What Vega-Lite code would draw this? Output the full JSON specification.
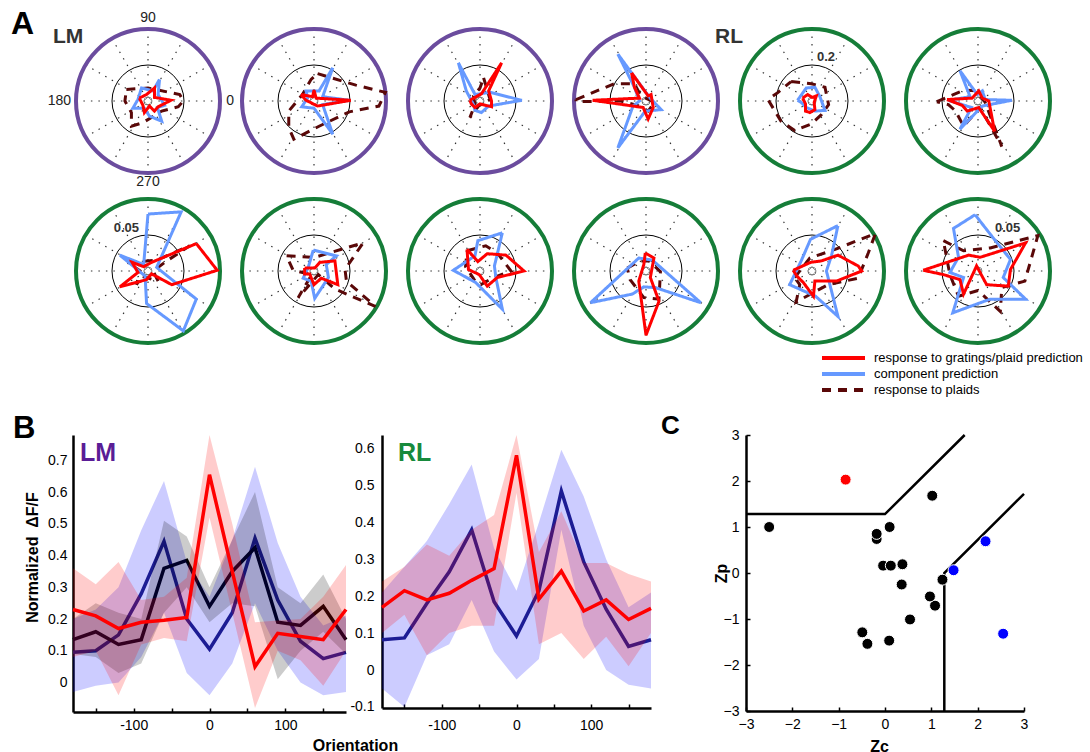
{
  "$schema": "https://vega.github.io/schema/vega-lite/v6.json",
  "padding": {"left": 10, "top": 7, "right": 5, "bottom": 0},
  "background": "white",
  "datasets": {
    "polar": [
      {"k":"r","c":1,"a":"LM"},{"k":"r","c":2,"a":"LM"},{"k":"r","c":3,"a":"LM"},{"k":"r","c":4,"a":"LM"},{"k":"r","c":5,"a":"RL"},{"k":"r","c":6,"a":"RL"},
      {"k":"r","c":7,"a":"RL"},{"k":"r","c":8,"a":"RL"},{"k":"r","c":9,"a":"RL"},{"k":"r","c":10,"a":"RL"},{"k":"r","c":11,"a":"RL"},{"k":"r","c":12,"a":"RL"},
      {"k":"s","c":1,"x":-1,"y":0,"u":1,"v":0},{"k":"s","c":1,"x":-0.866,"y":-0.5,"u":0.866,"v":0.5},{"k":"s","c":1,"x":-0.5,"y":-0.866,"u":0.5,"v":0.866},{"k":"s","c":1,"x":0,"y":-1,"u":0,"v":1},{"k":"s","c":1,"x":0.5,"y":-0.866,"u":-0.5,"v":0.866},{"k":"s","c":1,"x":0.866,"y":-0.5,"u":-0.866,"v":0.5},
      {"k":"s","c":2,"x":-1,"y":0,"u":1,"v":0},{"k":"s","c":2,"x":-0.866,"y":-0.5,"u":0.866,"v":0.5},{"k":"s","c":2,"x":-0.5,"y":-0.866,"u":0.5,"v":0.866},{"k":"s","c":2,"x":0,"y":-1,"u":0,"v":1},{"k":"s","c":2,"x":0.5,"y":-0.866,"u":-0.5,"v":0.866},{"k":"s","c":2,"x":0.866,"y":-0.5,"u":-0.866,"v":0.5},
      {"k":"s","c":3,"x":-1,"y":0,"u":1,"v":0},{"k":"s","c":3,"x":-0.866,"y":-0.5,"u":0.866,"v":0.5},{"k":"s","c":3,"x":-0.5,"y":-0.866,"u":0.5,"v":0.866},{"k":"s","c":3,"x":0,"y":-1,"u":0,"v":1},{"k":"s","c":3,"x":0.5,"y":-0.866,"u":-0.5,"v":0.866},{"k":"s","c":3,"x":0.866,"y":-0.5,"u":-0.866,"v":0.5},
      {"k":"s","c":4,"x":-1,"y":0,"u":1,"v":0},{"k":"s","c":4,"x":-0.866,"y":-0.5,"u":0.866,"v":0.5},{"k":"s","c":4,"x":-0.5,"y":-0.866,"u":0.5,"v":0.866},{"k":"s","c":4,"x":0,"y":-1,"u":0,"v":1},{"k":"s","c":4,"x":0.5,"y":-0.866,"u":-0.5,"v":0.866},{"k":"s","c":4,"x":0.866,"y":-0.5,"u":-0.866,"v":0.5},
      {"k":"s","c":5,"x":-1,"y":0,"u":1,"v":0},{"k":"s","c":5,"x":-0.866,"y":-0.5,"u":0.866,"v":0.5},{"k":"s","c":5,"x":-0.5,"y":-0.866,"u":0.5,"v":0.866},{"k":"s","c":5,"x":0,"y":-1,"u":0,"v":1},{"k":"s","c":5,"x":0.5,"y":-0.866,"u":-0.5,"v":0.866},{"k":"s","c":5,"x":0.866,"y":-0.5,"u":-0.866,"v":0.5},
      {"k":"s","c":6,"x":-1,"y":0,"u":1,"v":0},{"k":"s","c":6,"x":-0.866,"y":-0.5,"u":0.866,"v":0.5},{"k":"s","c":6,"x":-0.5,"y":-0.866,"u":0.5,"v":0.866},{"k":"s","c":6,"x":0,"y":-1,"u":0,"v":1},{"k":"s","c":6,"x":0.5,"y":-0.866,"u":-0.5,"v":0.866},{"k":"s","c":6,"x":0.866,"y":-0.5,"u":-0.866,"v":0.5},
      {"k":"s","c":7,"x":-1,"y":0,"u":1,"v":0},{"k":"s","c":7,"x":-0.866,"y":-0.5,"u":0.866,"v":0.5},{"k":"s","c":7,"x":-0.5,"y":-0.866,"u":0.5,"v":0.866},{"k":"s","c":7,"x":0,"y":-1,"u":0,"v":1},{"k":"s","c":7,"x":0.5,"y":-0.866,"u":-0.5,"v":0.866},{"k":"s","c":7,"x":0.866,"y":-0.5,"u":-0.866,"v":0.5},
      {"k":"s","c":8,"x":-1,"y":0,"u":1,"v":0},{"k":"s","c":8,"x":-0.866,"y":-0.5,"u":0.866,"v":0.5},{"k":"s","c":8,"x":-0.5,"y":-0.866,"u":0.5,"v":0.866},{"k":"s","c":8,"x":0,"y":-1,"u":0,"v":1},{"k":"s","c":8,"x":0.5,"y":-0.866,"u":-0.5,"v":0.866},{"k":"s","c":8,"x":0.866,"y":-0.5,"u":-0.866,"v":0.5},
      {"k":"s","c":9,"x":-1,"y":0,"u":1,"v":0},{"k":"s","c":9,"x":-0.866,"y":-0.5,"u":0.866,"v":0.5},{"k":"s","c":9,"x":-0.5,"y":-0.866,"u":0.5,"v":0.866},{"k":"s","c":9,"x":0,"y":-1,"u":0,"v":1},{"k":"s","c":9,"x":0.5,"y":-0.866,"u":-0.5,"v":0.866},{"k":"s","c":9,"x":0.866,"y":-0.5,"u":-0.866,"v":0.5},
      {"k":"s","c":10,"x":-1,"y":0,"u":1,"v":0},{"k":"s","c":10,"x":-0.866,"y":-0.5,"u":0.866,"v":0.5},{"k":"s","c":10,"x":-0.5,"y":-0.866,"u":0.5,"v":0.866},{"k":"s","c":10,"x":0,"y":-1,"u":0,"v":1},{"k":"s","c":10,"x":0.5,"y":-0.866,"u":-0.5,"v":0.866},{"k":"s","c":10,"x":0.866,"y":-0.5,"u":-0.866,"v":0.5},
      {"k":"s","c":11,"x":-1,"y":0,"u":1,"v":0},{"k":"s","c":11,"x":-0.866,"y":-0.5,"u":0.866,"v":0.5},{"k":"s","c":11,"x":-0.5,"y":-0.866,"u":0.5,"v":0.866},{"k":"s","c":11,"x":0,"y":-1,"u":0,"v":1},{"k":"s","c":11,"x":0.5,"y":-0.866,"u":-0.5,"v":0.866},{"k":"s","c":11,"x":0.866,"y":-0.5,"u":-0.866,"v":0.5},
      {"k":"s","c":12,"x":-1,"y":0,"u":1,"v":0},{"k":"s","c":12,"x":-0.866,"y":-0.5,"u":0.866,"v":0.5},{"k":"s","c":12,"x":-0.5,"y":-0.866,"u":0.5,"v":0.866},{"k":"s","c":12,"x":0,"y":-1,"u":0,"v":1},{"k":"s","c":12,"x":0.5,"y":-0.866,"u":-0.5,"v":0.866},{"k":"s","c":12,"x":0.866,"y":-0.5,"u":-0.866,"v":0.5},

      {"k":"p","c":1,"s":"p","i":0,"x":-0.3,"y":0.16},{"k":"p","c":1,"s":"p","i":1,"x":0,"y":0.18},{"k":"p","c":1,"s":"p","i":2,"x":0.44,"y":0.09},{"k":"p","c":1,"s":"p","i":3,"x":0.49,"y":0},{"k":"p","c":1,"s":"p","i":4,"x":0.42,"y":-0.08},{"k":"p","c":1,"s":"p","i":5,"x":0.19,"y":-0.14},{"k":"p","c":1,"s":"p","i":6,"x":-0.07,"y":-0.3},{"k":"p","c":1,"s":"p","i":7,"x":-0.23,"y":-0.35},{"k":"p","c":1,"s":"p","i":8,"x":-0.23,"y":-0.16},{"k":"p","c":1,"s":"p","i":9,"x":-0.32,"y":0},{"k":"p","c":1,"s":"p","i":10,"x":-0.3,"y":0.16},
      {"k":"p","c":1,"s":"c","i":0,"x":0.16,"y":0.3},{"k":"p","c":1,"s":"c","i":1,"x":0.07,"y":0.14},{"k":"p","c":1,"s":"c","i":2,"x":-0.09,"y":0.18},{"k":"p","c":1,"s":"c","i":3,"x":-0.14,"y":0.02},{"k":"p","c":1,"s":"c","i":4,"x":-0.21,"y":-0.1},{"k":"p","c":1,"s":"c","i":5,"x":-0.05,"y":-0.1},{"k":"p","c":1,"s":"c","i":6,"x":0.02,"y":-0.21},{"k":"p","c":1,"s":"c","i":7,"x":0.19,"y":-0.28},{"k":"p","c":1,"s":"c","i":8,"x":0.13,"y":-0.09},{"k":"p","c":1,"s":"c","i":9,"x":0.23,"y":-0.06},{"k":"p","c":1,"s":"c","i":10,"x":0.14,"y":0.09},{"k":"p","c":1,"s":"c","i":11,"x":0.16,"y":0.3},
      {"k":"p","c":1,"s":"g","i":0,"x":-0.12,"y":0.04},{"k":"p","c":1,"s":"g","i":1,"x":-0.02,"y":0.09},{"k":"p","c":1,"s":"g","i":2,"x":0.09,"y":0.18},{"k":"p","c":1,"s":"g","i":3,"x":0.09,"y":0.05},{"k":"p","c":1,"s":"g","i":4,"x":0.32,"y":0.01},{"k":"p","c":1,"s":"g","i":5,"x":0.14,"y":-0.08},{"k":"p","c":1,"s":"g","i":6,"x":0.09,"y":-0.14},{"k":"p","c":1,"s":"g","i":7,"x":0.02,"y":-0.07},{"k":"p","c":1,"s":"g","i":8,"x":-0.05,"y":-0.16},{"k":"p","c":1,"s":"g","i":9,"x":-0.07,"y":-0.06},{"k":"p","c":1,"s":"g","i":10,"x":-0.12,"y":0.04},

      {"k":"p","c":2,"s":"p","i":0,"x":0.05,"y":0.38},{"k":"p","c":2,"s":"p","i":1,"x":0.58,"y":0.22},{"k":"p","c":2,"s":"p","i":2,"x":0.99,"y":0.12},{"k":"p","c":2,"s":"p","i":3,"x":0.9,"y":-0.07},{"k":"p","c":2,"s":"p","i":4,"x":0.49,"y":-0.15},{"k":"p","c":2,"s":"p","i":5,"x":0.07,"y":-0.35},{"k":"p","c":2,"s":"p","i":6,"x":-0.28,"y":-0.53},{"k":"p","c":2,"s":"p","i":7,"x":-0.35,"y":-0.37},{"k":"p","c":2,"s":"p","i":8,"x":-0.35,"y":-0.14},{"k":"p","c":2,"s":"p","i":9,"x":-0.16,"y":0.09},{"k":"p","c":2,"s":"p","i":10,"x":-0.04,"y":0.3},{"k":"p","c":2,"s":"p","i":11,"x":0.05,"y":0.38},
      {"k":"p","c":2,"s":"c","i":0,"x":0.26,"y":0.46},{"k":"p","c":2,"s":"c","i":1,"x":0.07,"y":0.14},{"k":"p","c":2,"s":"c","i":2,"x":-0.11,"y":0.14},{"k":"p","c":2,"s":"c","i":3,"x":-0.09,"y":0.04},{"k":"p","c":2,"s":"c","i":4,"x":-0.17,"y":-0.08},{"k":"p","c":2,"s":"c","i":5,"x":0,"y":-0.1},{"k":"p","c":2,"s":"c","i":6,"x":0.26,"y":-0.46},{"k":"p","c":2,"s":"c","i":7,"x":0.12,"y":-0.05},{"k":"p","c":2,"s":"c","i":8,"x":0.49,"y":0.01},{"k":"p","c":2,"s":"c","i":9,"x":0.12,"y":0.06},{"k":"p","c":2,"s":"c","i":10,"x":0.26,"y":0.46},
      {"k":"p","c":2,"s":"g","i":0,"x":-0.18,"y":0.09},{"k":"p","c":2,"s":"g","i":1,"x":-0.02,"y":0.06},{"k":"p","c":2,"s":"g","i":2,"x":0,"y":0.15},{"k":"p","c":2,"s":"g","i":3,"x":0.03,"y":0.04},{"k":"p","c":2,"s":"g","i":4,"x":0.51,"y":0.01},{"k":"p","c":2,"s":"g","i":5,"x":0.05,"y":-0.07},{"k":"p","c":2,"s":"g","i":6,"x":-0.11,"y":0.01},{"k":"p","c":2,"s":"g","i":7,"x":-0.18,"y":0.09},

      {"k":"p","c":3,"s":"p","i":0,"x":0.05,"y":0.32},{"k":"p","c":3,"s":"p","i":1,"x":0.14,"y":0.02},{"k":"p","c":3,"s":"p","i":2,"x":-0.02,"y":-0.07},{"k":"p","c":3,"s":"p","i":3,"x":-0.14,"y":-0.23},{"k":"p","c":3,"s":"p","i":4,"x":-0.07,"y":-0.05},{"k":"p","c":3,"s":"p","i":5,"x":-0.09,"y":0.07},{"k":"p","c":3,"s":"p","i":6,"x":0,"y":0.18},{"k":"p","c":3,"s":"p","i":7,"x":0.05,"y":0.32},
      {"k":"p","c":3,"s":"c","i":0,"x":-0.3,"y":0.53},{"k":"p","c":3,"s":"c","i":1,"x":-0.07,"y":0.09},{"k":"p","c":3,"s":"c","i":2,"x":0.14,"y":0.12},{"k":"p","c":3,"s":"c","i":3,"x":0.58,"y":0.01},{"k":"p","c":3,"s":"c","i":4,"x":0.12,"y":-0.07},{"k":"p","c":3,"s":"c","i":5,"x":0.02,"y":-0.16},{"k":"p","c":3,"s":"c","i":6,"x":-0.07,"y":-0.13},{"k":"p","c":3,"s":"c","i":7,"x":-0.09,"y":-0.05},{"k":"p","c":3,"s":"c","i":8,"x":-0.19,"y":0.14},{"k":"p","c":3,"s":"c","i":9,"x":-0.3,"y":0.53},
      {"k":"p","c":3,"s":"g","i":0,"x":-0.14,"y":0.01},{"k":"p","c":3,"s":"g","i":1,"x":0.02,"y":0.1},{"k":"p","c":3,"s":"g","i":2,"x":0.3,"y":0.53},{"k":"p","c":3,"s":"g","i":3,"x":0.12,"y":0.14},{"k":"p","c":3,"s":"g","i":4,"x":0.16,"y":0},{"k":"p","c":3,"s":"g","i":5,"x":0.16,"y":-0.08},{"k":"p","c":3,"s":"g","i":6,"x":0,"y":-0.04},{"k":"p","c":3,"s":"g","i":7,"x":-0.07,"y":-0.09},{"k":"p","c":3,"s":"g","i":8,"x":-0.12,"y":-0.04},{"k":"p","c":3,"s":"g","i":9,"x":-0.14,"y":0.01},

      {"k":"p","c":4,"s":"p","i":0,"x":-0.97,"y":0.02},{"k":"p","c":4,"s":"p","i":1,"x":-0.44,"y":0.24},{"k":"p","c":4,"s":"p","i":2,"x":-0.16,"y":0.24},{"k":"p","c":4,"s":"p","i":3,"x":-0.07,"y":0.07},{"k":"p","c":4,"s":"p","i":4,"x":0.12,"y":-0.02},{"k":"p","c":4,"s":"p","i":5,"x":0.03,"y":-0.14},{"k":"p","c":4,"s":"p","i":6,"x":-0.09,"y":-0.07},{"k":"p","c":4,"s":"p","i":7,"x":-0.35,"y":0},{"k":"p","c":4,"s":"p","i":8,"x":-0.97,"y":-0.01},{"k":"p","c":4,"s":"p","i":9,"x":-0.97,"y":0.02},
      {"k":"p","c":4,"s":"c","i":0,"x":-0.39,"y":0.65},{"k":"p","c":4,"s":"c","i":1,"x":0.05,"y":0.05},{"k":"p","c":4,"s":"c","i":2,"x":0.21,"y":-0.12},{"k":"p","c":4,"s":"c","i":3,"x":-0.01,"y":-0.14},{"k":"p","c":4,"s":"c","i":4,"x":-0.39,"y":-0.65},{"k":"p","c":4,"s":"c","i":5,"x":-0.18,"y":-0.07},{"k":"p","c":4,"s":"c","i":6,"x":-0.09,"y":0},{"k":"p","c":4,"s":"c","i":7,"x":-0.16,"y":0.19},{"k":"p","c":4,"s":"c","i":8,"x":-0.39,"y":0.65},
      {"k":"p","c":4,"s":"g","i":0,"x":-0.2,"y":0.39},{"k":"p","c":4,"s":"g","i":1,"x":0.03,"y":0.07},{"k":"p","c":4,"s":"g","i":2,"x":0.07,"y":0.09},{"k":"p","c":4,"s":"g","i":3,"x":0.1,"y":-0.09},{"k":"p","c":4,"s":"g","i":4,"x":0.03,"y":-0.25},{"k":"p","c":4,"s":"g","i":5,"x":-0.04,"y":-0.09},{"k":"p","c":4,"s":"g","i":6,"x":-0.74,"y":0.01},{"k":"p","c":4,"s":"g","i":7,"x":-0.09,"y":0.04},{"k":"p","c":4,"s":"g","i":8,"x":-0.16,"y":0.19},{"k":"p","c":4,"s":"g","i":9,"x":-0.2,"y":0.39},

      {"k":"p","c":5,"s":"p","i":0,"x":-0.29,"y":0.27},{"k":"p","c":5,"s":"p","i":1,"x":-0.01,"y":0.24},{"k":"p","c":5,"s":"p","i":2,"x":0.18,"y":0.19},{"k":"p","c":5,"s":"p","i":3,"x":0.23,"y":-0.05},{"k":"p","c":5,"s":"p","i":4,"x":0.13,"y":-0.19},{"k":"p","c":5,"s":"p","i":5,"x":-0.01,"y":-0.32},{"k":"p","c":5,"s":"p","i":6,"x":-0.24,"y":-0.41},{"k":"p","c":5,"s":"p","i":7,"x":-0.43,"y":-0.28},{"k":"p","c":5,"s":"p","i":8,"x":-0.61,"y":0.02},{"k":"p","c":5,"s":"p","i":9,"x":-0.47,"y":0.12},{"k":"p","c":5,"s":"p","i":10,"x":-0.29,"y":0.27},
      {"k":"p","c":5,"s":"c","i":0,"x":-0.2,"y":0.01},{"k":"p","c":5,"s":"c","i":1,"x":-0.08,"y":0.18},{"k":"p","c":5,"s":"c","i":2,"x":0.04,"y":0.19},{"k":"p","c":5,"s":"c","i":3,"x":0.11,"y":0.06},{"k":"p","c":5,"s":"c","i":4,"x":0.18,"y":-0.13},{"k":"p","c":5,"s":"c","i":5,"x":0.04,"y":-0.14},{"k":"p","c":5,"s":"c","i":6,"x":-0.08,"y":-0.09},{"k":"p","c":5,"s":"c","i":7,"x":-0.15,"y":-0.02},{"k":"p","c":5,"s":"c","i":8,"x":-0.2,"y":0.01},
      {"k":"p","c":5,"s":"g","i":0,"x":-0.13,"y":0.04},{"k":"p","c":5,"s":"g","i":1,"x":-0.06,"y":0.09},{"k":"p","c":5,"s":"g","i":2,"x":0,"y":0.05},{"k":"p","c":5,"s":"g","i":3,"x":0.06,"y":0.07},{"k":"p","c":5,"s":"g","i":4,"x":0.03,"y":-0.02},{"k":"p","c":5,"s":"g","i":5,"x":0.04,"y":-0.12},{"k":"p","c":5,"s":"g","i":6,"x":-0.03,"y":-0.16},{"k":"p","c":5,"s":"g","i":7,"x":-0.09,"y":-0.14},{"k":"p","c":5,"s":"g","i":8,"x":-0.09,"y":-0.04},{"k":"p","c":5,"s":"g","i":9,"x":-0.13,"y":0.04},

      {"k":"p","c":6,"s":"p","i":0,"x":-0.57,"y":-0.01},{"k":"p","c":6,"s":"p","i":1,"x":-0.22,"y":0.14},{"k":"p","c":6,"s":"p","i":2,"x":-0.06,"y":0.15},{"k":"p","c":6,"s":"p","i":3,"x":0.03,"y":0.07},{"k":"p","c":6,"s":"p","i":4,"x":0.1,"y":-0.02},{"k":"p","c":6,"s":"p","i":5,"x":0.33,"y":-0.63},{"k":"p","c":6,"s":"p","i":6,"x":0.03,"y":-0.09},{"k":"p","c":6,"s":"p","i":7,"x":-0.2,"y":-0.35},{"k":"p","c":6,"s":"p","i":8,"x":-0.31,"y":-0.14},{"k":"p","c":6,"s":"p","i":9,"x":-0.41,"y":-0.05},{"k":"p","c":6,"s":"p","i":10,"x":-0.57,"y":-0.01},
      {"k":"p","c":6,"s":"c","i":0,"x":-0.25,"y":0.42},{"k":"p","c":6,"s":"c","i":1,"x":-0.01,"y":0.09},{"k":"p","c":6,"s":"c","i":2,"x":0.06,"y":0.14},{"k":"p","c":6,"s":"c","i":3,"x":0.1,"y":0.02},{"k":"p","c":6,"s":"c","i":4,"x":0.47,"y":0.01},{"k":"p","c":6,"s":"c","i":5,"x":0.06,"y":-0.07},{"k":"p","c":6,"s":"c","i":6,"x":-0.25,"y":-0.39},{"k":"p","c":6,"s":"c","i":7,"x":-0.09,"y":-0.09},{"k":"p","c":6,"s":"c","i":8,"x":-0.41,"y":0.01},{"k":"p","c":6,"s":"c","i":9,"x":-0.11,"y":0.06},{"k":"p","c":6,"s":"c","i":10,"x":-0.25,"y":0.42},
      {"k":"p","c":6,"s":"g","i":0,"x":-0.43,"y":0.02},{"k":"p","c":6,"s":"g","i":1,"x":-0.08,"y":0.04},{"k":"p","c":6,"s":"g","i":2,"x":0.01,"y":0.14},{"k":"p","c":6,"s":"g","i":3,"x":0.06,"y":0.04},{"k":"p","c":6,"s":"g","i":4,"x":0.15,"y":0},{"k":"p","c":6,"s":"g","i":5,"x":0.23,"y":-0.42},{"k":"p","c":6,"s":"g","i":6,"x":0.01,"y":-0.09},{"k":"p","c":6,"s":"g","i":7,"x":-0.15,"y":-0.14},{"k":"p","c":6,"s":"g","i":8,"x":-0.22,"y":-0.06},{"k":"p","c":6,"s":"g","i":9,"x":-0.43,"y":0.02},

      {"k":"p","c":7,"s":"p","i":0,"x":-0.28,"y":0.12},{"k":"p","c":7,"s":"p","i":1,"x":0.12,"y":0.15},{"k":"p","c":7,"s":"p","i":2,"x":0.58,"y":0.35},{"k":"p","c":7,"s":"p","i":3,"x":0.26,"y":0.14},{"k":"p","c":7,"s":"p","i":4,"x":0.07,"y":0},{"k":"p","c":7,"s":"p","i":5,"x":0.14,"y":-0.14},{"k":"p","c":7,"s":"p","i":6,"x":-0.09,"y":-0.07},{"k":"p","c":7,"s":"p","i":7,"x":-0.16,"y":-0.19},{"k":"p","c":7,"s":"p","i":8,"x":-0.11,"y":0},{"k":"p","c":7,"s":"p","i":9,"x":-0.28,"y":0.12},
      {"k":"p","c":7,"s":"c","i":0,"x":0,"y":0.79},{"k":"p","c":7,"s":"c","i":1,"x":0.46,"y":0.82},{"k":"p","c":7,"s":"c","i":2,"x":0.12,"y":0.05},{"k":"p","c":7,"s":"c","i":3,"x":0.67,"y":-0.39},{"k":"p","c":7,"s":"c","i":4,"x":0.49,"y":-0.83},{"k":"p","c":7,"s":"c","i":5,"x":-0.02,"y":-0.45},{"k":"p","c":7,"s":"c","i":6,"x":-0.04,"y":-0.07},{"k":"p","c":7,"s":"c","i":7,"x":-0.39,"y":0.22},{"k":"p","c":7,"s":"c","i":8,"x":-0.06,"y":0.09},{"k":"p","c":7,"s":"c","i":9,"x":0,"y":0.79},
      {"k":"p","c":7,"s":"g","i":0,"x":0.67,"y":0.38},{"k":"p","c":7,"s":"g","i":1,"x":0.96,"y":0.01},{"k":"p","c":7,"s":"g","i":2,"x":0.33,"y":-0.19},{"k":"p","c":7,"s":"g","i":3,"x":0.05,"y":-0.04},{"k":"p","c":7,"s":"g","i":4,"x":-0.02,"y":-0.12},{"k":"p","c":7,"s":"g","i":5,"x":-0.39,"y":-0.22},{"k":"p","c":7,"s":"g","i":6,"x":-0.14,"y":-0.02},{"k":"p","c":7,"s":"g","i":7,"x":-0.22,"y":0.12},{"k":"p","c":7,"s":"g","i":8,"x":-0.06,"y":0.06},{"k":"p","c":7,"s":"g","i":9,"x":0.05,"y":0.12},{"k":"p","c":7,"s":"g","i":10,"x":0.67,"y":0.38},

      {"k":"p","c":8,"s":"p","i":0,"x":-0.38,"y":0.21},{"k":"p","c":8,"s":"p","i":1,"x":0.01,"y":0.19},{"k":"p","c":8,"s":"p","i":2,"x":0.68,"y":0.39},{"k":"p","c":8,"s":"p","i":3,"x":0.43,"y":0.02},{"k":"p","c":8,"s":"p","i":4,"x":0.45,"y":-0.14},{"k":"p","c":8,"s":"p","i":5,"x":0.85,"y":-0.49},{"k":"p","c":8,"s":"p","i":6,"x":0.29,"y":-0.25},{"k":"p","c":8,"s":"p","i":7,"x":0.06,"y":-0.05},{"k":"p","c":8,"s":"p","i":8,"x":-0.22,"y":-0.37},{"k":"p","c":8,"s":"p","i":9,"x":-0.03,"y":-0.05},{"k":"p","c":8,"s":"p","i":10,"x":-0.29,"y":0.01},{"k":"p","c":8,"s":"p","i":11,"x":-0.38,"y":0.21},
      {"k":"p","c":8,"s":"c","i":0,"x":-0.01,"y":0.29},{"k":"p","c":8,"s":"c","i":1,"x":0.31,"y":0.21},{"k":"p","c":8,"s":"c","i":2,"x":0.17,"y":0.09},{"k":"p","c":8,"s":"c","i":3,"x":0.2,"y":-0.09},{"k":"p","c":8,"s":"c","i":4,"x":0.01,"y":-0.38},{"k":"p","c":8,"s":"c","i":5,"x":-0.04,"y":-0.14},{"k":"p","c":8,"s":"c","i":6,"x":-0.15,"y":-0.1},{"k":"p","c":8,"s":"c","i":7,"x":-0.08,"y":0.05},{"k":"p","c":8,"s":"c","i":8,"x":-0.01,"y":0.29},
      {"k":"p","c":8,"s":"g","i":0,"x":-0.13,"y":0.04},{"k":"p","c":8,"s":"g","i":1,"x":0.01,"y":0.04},{"k":"p","c":8,"s":"g","i":2,"x":0.08,"y":0.12},{"k":"p","c":8,"s":"g","i":3,"x":0.29,"y":0.14},{"k":"p","c":8,"s":"g","i":4,"x":0.33,"y":-0.19},{"k":"p","c":8,"s":"g","i":5,"x":0.1,"y":-0.1},{"k":"p","c":8,"s":"g","i":6,"x":0,"y":-0.19},{"k":"p","c":8,"s":"g","i":7,"x":-0.06,"y":-0.04},{"k":"p","c":8,"s":"g","i":8,"x":-0.13,"y":-0.04},{"k":"p","c":8,"s":"g","i":9,"x":-0.13,"y":0.04},

      {"k":"p","c":9,"s":"p","i":0,"x":-0.18,"y":0.28},{"k":"p","c":9,"s":"p","i":1,"x":0.08,"y":0.35},{"k":"p","c":9,"s":"p","i":2,"x":0.24,"y":0.25},{"k":"p","c":9,"s":"p","i":3,"x":0.43,"y":0},{"k":"p","c":9,"s":"p","i":4,"x":0.17,"y":-0.1},{"k":"p","c":9,"s":"p","i":5,"x":0.01,"y":-0.19},{"k":"p","c":9,"s":"p","i":6,"x":-0.08,"y":-0.12},{"k":"p","c":9,"s":"p","i":7,"x":-0.2,"y":0.06},{"k":"p","c":9,"s":"p","i":8,"x":-0.18,"y":0.28},
      {"k":"p","c":9,"s":"c","i":0,"x":0.31,"y":0.53},{"k":"p","c":9,"s":"c","i":1,"x":-0.03,"y":0.42},{"k":"p","c":9,"s":"c","i":2,"x":-0.07,"y":0.21},{"k":"p","c":9,"s":"c","i":3,"x":-0.37,"y":0.01},{"k":"p","c":9,"s":"c","i":4,"x":-0.06,"y":-0.16},{"k":"p","c":9,"s":"c","i":5,"x":0.31,"y":-0.53},{"k":"p","c":9,"s":"c","i":6,"x":0.22,"y":-0.09},{"k":"p","c":9,"s":"c","i":7,"x":0.2,"y":0.07},{"k":"p","c":9,"s":"c","i":8,"x":0.31,"y":0.53},
      {"k":"p","c":9,"s":"g","i":0,"x":-0.18,"y":0.3},{"k":"p","c":9,"s":"g","i":1,"x":-0.03,"y":0.13},{"k":"p","c":9,"s":"g","i":2,"x":0.1,"y":0.24},{"k":"p","c":9,"s":"g","i":3,"x":0.36,"y":0.22},{"k":"p","c":9,"s":"g","i":4,"x":0.61,"y":0},{"k":"p","c":9,"s":"g","i":5,"x":0.24,"y":-0.09},{"k":"p","c":9,"s":"g","i":6,"x":0.1,"y":-0.21},{"k":"p","c":9,"s":"g","i":7,"x":-0.01,"y":-0.05},{"k":"p","c":9,"s":"g","i":8,"x":-0.16,"y":0.02},{"k":"p","c":9,"s":"g","i":9,"x":-0.18,"y":0.3},

      {"k":"p","c":10,"s":"p","i":0,"x":-0.26,"y":0.04},{"k":"p","c":10,"s":"p","i":1,"x":-0.08,"y":0.14},{"k":"p","c":10,"s":"p","i":2,"x":0.04,"y":0.14},{"k":"p","c":10,"s":"p","i":3,"x":0.2,"y":-0.01},{"k":"p","c":10,"s":"p","i":4,"x":0.18,"y":-0.39},{"k":"p","c":10,"s":"p","i":5,"x":-0.03,"y":-0.37},{"k":"p","c":10,"s":"p","i":6,"x":-0.22,"y":-0.12},{"k":"p","c":10,"s":"p","i":7,"x":-0.26,"y":0.04},
      {"k":"p","c":10,"s":"c","i":0,"x":-0.77,"y":-0.44},{"k":"p","c":10,"s":"c","i":1,"x":-0.1,"y":0.18},{"k":"p","c":10,"s":"c","i":2,"x":0.09,"y":0.15},{"k":"p","c":10,"s":"c","i":3,"x":0.76,"y":-0.44},{"k":"p","c":10,"s":"c","i":4,"x":0.13,"y":-0.23},{"k":"p","c":10,"s":"c","i":5,"x":-0.03,"y":-0.22},{"k":"p","c":10,"s":"c","i":6,"x":-0.19,"y":-0.32},{"k":"p","c":10,"s":"c","i":7,"x":-0.77,"y":-0.44},
      {"k":"p","c":10,"s":"g","i":0,"x":-0.01,"y":0.25},{"k":"p","c":10,"s":"g","i":1,"x":0.11,"y":0.18},{"k":"p","c":10,"s":"g","i":2,"x":0.06,"y":-0.09},{"k":"p","c":10,"s":"g","i":3,"x":0.18,"y":-0.42},{"k":"p","c":10,"s":"g","i":4,"x":0,"y":-0.89},{"k":"p","c":10,"s":"g","i":5,"x":-0.1,"y":-0.14},{"k":"p","c":10,"s":"g","i":6,"x":-0.03,"y":0.09},{"k":"p","c":10,"s":"g","i":7,"x":-0.01,"y":0.25},

      {"k":"p","c":11,"s":"p","i":0,"x":-0.24,"y":-0.09},{"k":"p","c":11,"s":"p","i":1,"x":-0.03,"y":0.18},{"k":"p","c":11,"s":"p","i":2,"x":0.32,"y":0.3},{"k":"p","c":11,"s":"p","i":3,"x":0.88,"y":0.52},{"k":"p","c":11,"s":"p","i":4,"x":0.78,"y":0.25},{"k":"p","c":11,"s":"p","i":5,"x":0.64,"y":-0.1},{"k":"p","c":11,"s":"p","i":6,"x":0.22,"y":-0.19},{"k":"p","c":11,"s":"p","i":7,"x":-0.22,"y":-0.43},{"k":"p","c":11,"s":"p","i":8,"x":-0.17,"y":-0.19},{"k":"p","c":11,"s":"p","i":9,"x":-0.24,"y":-0.09},
      {"k":"p","c":11,"s":"c","i":0,"x":0.36,"y":0.63},{"k":"p","c":11,"s":"c","i":1,"x":-0.02,"y":0.44},{"k":"p","c":11,"s":"c","i":2,"x":-0.15,"y":0.14},{"k":"p","c":11,"s":"c","i":3,"x":-0.31,"y":-0.19},{"k":"p","c":11,"s":"c","i":4,"x":0.05,"y":-0.35},{"k":"p","c":11,"s":"c","i":5,"x":0.36,"y":-0.63},{"k":"p","c":11,"s":"c","i":6,"x":0.2,"y":0},{"k":"p","c":11,"s":"c","i":7,"x":0.27,"y":0.21},{"k":"p","c":11,"s":"c","i":8,"x":0.36,"y":0.63},
      {"k":"p","c":11,"s":"g","i":0,"x":-0.26,"y":0.01},{"k":"p","c":11,"s":"g","i":1,"x":-0.02,"y":0.12},{"k":"p","c":11,"s":"g","i":2,"x":0.13,"y":0.14},{"k":"p","c":11,"s":"g","i":3,"x":0.36,"y":0.22},{"k":"p","c":11,"s":"g","i":4,"x":0.64,"y":0.07},{"k":"p","c":11,"s":"g","i":5,"x":0.69,"y":0},{"k":"p","c":11,"s":"g","i":6,"x":0.34,"y":-0.14},{"k":"p","c":11,"s":"g","i":7,"x":0.04,"y":-0.14},{"k":"p","c":11,"s":"g","i":8,"x":0.02,"y":-0.35},{"k":"p","c":11,"s":"g","i":9,"x":-0.12,"y":-0.16},{"k":"p","c":11,"s":"g","i":10,"x":-0.21,"y":-0.07},{"k":"p","c":11,"s":"g","i":11,"x":-0.26,"y":0.01},

      {"k":"p","c":12,"s":"p","i":0,"x":-0.48,"y":0.42},{"k":"p","c":12,"s":"p","i":1,"x":-0.2,"y":0.28},{"k":"p","c":12,"s":"p","i":2,"x":0.17,"y":0.32},{"k":"p","c":12,"s":"p","i":3,"x":0.83,"y":0.49},{"k":"p","c":12,"s":"p","i":4,"x":0.65,"y":-0.14},{"k":"p","c":12,"s":"p","i":5,"x":0.33,"y":-0.23},{"k":"p","c":12,"s":"p","i":6,"x":0.31,"y":-0.56},{"k":"p","c":12,"s":"p","i":7,"x":0,"y":-0.27},{"k":"p","c":12,"s":"p","i":8,"x":-0.27,"y":-0.35},{"k":"p","c":12,"s":"p","i":9,"x":-0.39,"y":-0.05},{"k":"p","c":12,"s":"p","i":10,"x":-0.48,"y":0.42},
      {"k":"p","c":12,"s":"c","i":0,"x":-0.04,"y":0.78},{"k":"p","c":12,"s":"c","i":1,"x":-0.34,"y":0.59},{"k":"p","c":12,"s":"c","i":2,"x":-0.27,"y":0.19},{"k":"p","c":12,"s":"c","i":3,"x":-0.39,"y":-0.02},{"k":"p","c":12,"s":"c","i":4,"x":-0.2,"y":-0.09},{"k":"p","c":12,"s":"c","i":5,"x":-0.35,"y":-0.58},{"k":"p","c":12,"s":"c","i":6,"x":0.17,"y":-0.39},{"k":"p","c":12,"s":"c","i":7,"x":0.66,"y":-0.39},{"k":"p","c":12,"s":"c","i":8,"x":0.35,"y":-0.09},{"k":"p","c":12,"s":"c","i":9,"x":0.45,"y":0.16},{"k":"p","c":12,"s":"c","i":10,"x":0.17,"y":0.51},{"k":"p","c":12,"s":"c","i":11,"x":-0.04,"y":0.78},
      {"k":"p","c":12,"s":"g","i":0,"x":-0.76,"y":0.01},{"k":"p","c":12,"s":"g","i":1,"x":-0.13,"y":0.22},{"k":"p","c":12,"s":"g","i":2,"x":0.03,"y":0.19},{"k":"p","c":12,"s":"g","i":3,"x":0.66,"y":0.39},{"k":"p","c":12,"s":"g","i":4,"x":0.45,"y":0.02},{"k":"p","c":12,"s":"g","i":5,"x":0.42,"y":-0.21},{"k":"p","c":12,"s":"g","i":6,"x":0.12,"y":-0.19},{"k":"p","c":12,"s":"g","i":7,"x":-0.02,"y":0.07},{"k":"p","c":12,"s":"g","i":8,"x":-0.2,"y":-0.32},{"k":"p","c":12,"s":"g","i":9,"x":-0.25,"y":-0.12},{"k":"p","c":12,"s":"g","i":10,"x":-0.48,"y":-0.05},{"k":"p","c":12,"s":"g","i":11,"x":-0.76,"y":0.01},

      {"k":"t","c":1,"r":"panel","t":"A","x":-1.9,"y":0.929},
      {"k":"t","c":1,"r":"area","t":"LM","x":-1.317,"y":0.8},
      {"k":"t","c":5,"r":"area","t":"RL","x":-1.345,"y":0.8},
      {"k":"t","c":1,"r":"angle","t":"90","x":0,"y":1.15},
      {"k":"t","c":1,"r":"angle","t":"180","x":-1.23,"y":0},
      {"k":"t","c":1,"r":"angle","t":"0","x":1.14,"y":0},
      {"k":"t","c":1,"r":"angle","t":"270","x":0,"y":-1.12},
      {"k":"t","c":5,"r":"scale","t":"0.2","x":0.194,"y":0.555},
      {"k":"t","c":7,"r":"scale","t":"0.05","x":-0.3,"y":0.54},
      {"k":"t","c":12,"r":"scale","t":"0.05","x":0.41,"y":0.54}
    ],
    "lm": [
      {"s":"c","o":-180,"m":0.095,"lo":-0.03,"hi":0.2},{"s":"c","o":-150,"m":0.1,"lo":-0.01,"hi":0.23},{"s":"c","o":-120,"m":0.15,"lo":0,"hi":0.3},{"s":"c","o":-90,"m":0.28,"lo":0.08,"hi":0.48},{"s":"c","o":-60,"m":0.445,"lo":0.22,"hi":0.635},{"s":"c","o":-30,"m":0.2,"lo":0.03,"hi":0.38},{"s":"c","o":0,"m":0.105,"lo":-0.04,"hi":0.27},{"s":"c","o":30,"m":0.22,"lo":0.06,"hi":0.45},{"s":"c","o":60,"m":0.455,"lo":0.25,"hi":0.68},{"s":"c","o":90,"m":0.26,"lo":0.1,"hi":0.44},{"s":"c","o":120,"m":0.13,"lo":0,"hi":0.27},{"s":"c","o":150,"m":0.075,"lo":-0.04,"hi":0.18},{"s":"c","o":180,"m":0.095,"lo":-0.03,"hi":0.21},
      {"s":"p","o":-180,"m":0.135,"lo":0.09,"hi":0.2},{"s":"p","o":-150,"m":0.16,"lo":0.08,"hi":0.25},{"s":"p","o":-120,"m":0.12,"lo":0.03,"hi":0.22},{"s":"p","o":-90,"m":0.135,"lo":0.06,"hi":0.2},{"s":"p","o":-60,"m":0.36,"lo":0.22,"hi":0.51},{"s":"p","o":-30,"m":0.385,"lo":0.3,"hi":0.46},{"s":"p","o":0,"m":0.24,"lo":0.19,"hi":0.3},{"s":"p","o":30,"m":0.35,"lo":0.25,"hi":0.45},{"s":"p","o":60,"m":0.425,"lo":0.24,"hi":0.6},{"s":"p","o":90,"m":0.19,"lo":0.01,"hi":0.3},{"s":"p","o":120,"m":0.18,"lo":0.1,"hi":0.25},{"s":"p","o":150,"m":0.24,"lo":0.16,"hi":0.34},{"s":"p","o":180,"m":0.135,"lo":0.09,"hi":0.2},
      {"s":"g","o":-180,"m":0.23,"lo":0.08,"hi":0.36},{"s":"g","o":-150,"m":0.21,"lo":0.1,"hi":0.31},{"s":"g","o":-120,"m":0.17,"lo":-0.04,"hi":0.38},{"s":"g","o":-90,"m":0.19,"lo":0.12,"hi":0.26},{"s":"g","o":-60,"m":0.196,"lo":0.14,"hi":0.27},{"s":"g","o":-30,"m":0.205,"lo":0.13,"hi":0.33},{"s":"g","o":0,"m":0.655,"lo":0.52,"hi":0.78},{"s":"g","o":30,"m":0.35,"lo":0.22,"hi":0.5},{"s":"g","o":60,"m":0.05,"lo":-0.08,"hi":0.19},{"s":"g","o":90,"m":0.155,"lo":0.1,"hi":0.195},{"s":"g","o":120,"m":0.145,"lo":0.07,"hi":0.2},{"s":"g","o":150,"m":0.135,"lo":-0.01,"hi":0.27},{"s":"g","o":180,"m":0.23,"lo":0.1,"hi":0.37}
    ],
    "rl": [
      {"s":"c","o":-180,"m":0.082,"lo":-0.05,"hi":0.21},{"s":"c","o":-150,"m":0.087,"lo":-0.1,"hi":0.28},{"s":"c","o":-120,"m":0.18,"lo":0.04,"hi":0.35},{"s":"c","o":-90,"m":0.266,"lo":0.07,"hi":0.45},{"s":"c","o":-60,"m":0.38,"lo":0.19,"hi":0.557},{"s":"c","o":-30,"m":0.185,"lo":0.05,"hi":0.33},{"s":"c","o":0,"m":0.092,"lo":-0.026,"hi":0.215},{"s":"c","o":30,"m":0.215,"lo":0.03,"hi":0.4},{"s":"c","o":60,"m":0.485,"lo":0.38,"hi":0.597},{"s":"c","o":90,"m":0.293,"lo":0.12,"hi":0.47},{"s":"c","o":120,"m":0.165,"lo":0,"hi":0.3},{"s":"c","o":150,"m":0.064,"lo":-0.04,"hi":0.17},{"s":"c","o":180,"m":0.082,"lo":-0.05,"hi":0.21},
      {"s":"g","o":-180,"m":0.17,"lo":0.1,"hi":0.24},{"s":"g","o":-150,"m":0.215,"lo":0.15,"hi":0.28},{"s":"g","o":-120,"m":0.19,"lo":0.04,"hi":0.34},{"s":"g","o":-90,"m":0.208,"lo":0.1,"hi":0.31},{"s":"g","o":-60,"m":0.243,"lo":0.12,"hi":0.38},{"s":"g","o":-30,"m":0.275,"lo":0.12,"hi":0.42},{"s":"g","o":0,"m":0.582,"lo":0.48,"hi":0.637},{"s":"g","o":30,"m":0.192,"lo":0.07,"hi":0.32},{"s":"g","o":60,"m":0.268,"lo":0.1,"hi":0.43},{"s":"g","o":90,"m":0.16,"lo":0.03,"hi":0.29},{"s":"g","o":120,"m":0.19,"lo":0.09,"hi":0.29},{"s":"g","o":150,"m":0.137,"lo":0.01,"hi":0.26},{"s":"g","o":180,"m":0.167,"lo":0.1,"hi":0.24}
    ],
    "cz": [
      {"g":"n","zc":-2.5,"zp":1.0},{"g":"n","zc":1.02,"zp":1.68},{"g":"n","zc":0.1,"zp":1.0},{"g":"n","zc":-0.18,"zp":0.74},{"g":"n","zc":-0.18,"zp":0.85},{"g":"n","zc":-0.04,"zp":0.16},{"g":"n","zc":0.125,"zp":0.16},{"g":"n","zc":0.376,"zp":0.19},{"g":"n","zc":0.36,"zp":-0.25},{"g":"n","zc":1.08,"zp":-0.71},{"g":"n","zc":0.97,"zp":-0.51},{"g":"n","zc":1.24,"zp":-0.145},{"g":"n","zc":0.54,"zp":-1.01},{"g":"n","zc":-0.49,"zp":-1.29},{"g":"n","zc":-0.38,"zp":-1.54},{"g":"n","zc":0.09,"zp":-1.47},
      {"g":"p","zc":-0.85,"zp":2.03},
      {"g":"c","zc":1.48,"zp":0.06},{"g":"c","zc":2.17,"zp":0.69},{"g":"c","zc":2.55,"zp":-1.32}
    ],
    "bd": [
      {"g":"a","i":0,"zc":-3,"zp":1.28},{"g":"a","i":1,"zc":0,"zp":1.28},{"g":"a","i":2,"zc":1.72,"zp":3},
      {"g":"b","i":0,"zc":1.28,"zp":-3},{"g":"b","i":1,"zc":1.28,"zp":0},{"g":"b","i":2,"zc":3,"zp":1.72}
    ]
  },
  "vconcat": [
    {
      "data": {"name": "polar"},
      "facet": {"field": "c", "type": "ordinal", "header": {"labels": false, "labelExpr": "''", "labelFontSize": 1, "labelColor": "#ffffff", "title": null, "labelPadding": 0, "titlePadding": 0}},
      "columns": 6,
      "spacing": {"row": 20, "column": 16},
      "bounds": "flush",
      "spec": {
        "width": 150,
        "height": 150,
        "layer": [
          {
            "transform": [{"filter": "datum.k == 's'"}],
            "mark": {"type": "rule", "color": "#333333", "strokeWidth": 1.2, "strokeDash": [1.5, 6]},
            "encoding": {
              "x": {"field": "x", "type": "quantitative", "scale": {"domain": [-1.04, 1.04], "nice": false, "zero": false}, "axis": null},
              "y": {"field": "y", "type": "quantitative", "scale": {"domain": [-1.04, 1.04], "nice": false, "zero": false}, "axis": null},
              "x2": {"field": "u"},
              "y2": {"field": "v"}
            }
          },
          {
            "transform": [{"filter": "datum.k == 'r'"}],
            "mark": {"type": "point", "shape": "circle", "filled": false, "size": 5184, "stroke": "#000000", "strokeWidth": 1, "opacity": 1},
            "encoding": {
              "x": {"datum": 0, "type": "quantitative", "scale": {"domain": [-1.04, 1.04], "nice": false, "zero": false}, "axis": null},
              "y": {"datum": 0, "type": "quantitative", "scale": {"domain": [-1.04, 1.04], "nice": false, "zero": false}, "axis": null}
            }
          },
          {
            "transform": [{"filter": "datum.k == 'r'"}],
            "mark": {"type": "point", "shape": "circle", "filled": false, "size": 20736, "strokeWidth": 4, "opacity": 1},
            "encoding": {
              "x": {"datum": 0, "type": "quantitative", "scale": {"domain": [-1.04, 1.04], "nice": false, "zero": false}, "axis": null},
              "y": {"datum": 0, "type": "quantitative", "scale": {"domain": [-1.04, 1.04], "nice": false, "zero": false}, "axis": null},
              "stroke": {"field": "a", "type": "nominal", "scale": {"domain": ["LM", "RL"], "range": ["#6b4c9e", "#157d38"]}, "legend": null}
            }
          },
          {
            "transform": [{"filter": "datum.k == 'p'"}],
            "mark": {"type": "line", "strokeWidth": 3},
            "encoding": {
              "x": {"field": "x", "type": "quantitative", "scale": {"domain": [-1.04, 1.04], "nice": false, "zero": false}, "axis": null},
              "y": {"field": "y", "type": "quantitative", "scale": {"domain": [-1.04, 1.04], "nice": false, "zero": false}, "axis": null},
              "order": {"field": "i", "type": "quantitative"},
              "color": {
                "field": "s", "type": "nominal",
                "scale": {"domain": ["g", "c", "p"], "range": ["#ff0000", "#6699ff", "#5a0808"]},
                "legend": {"orient": "none", "legendX": 747, "legendY": 324, "title": null, "padding": 0, "symbolType": "stroke", "symbolSize": 1849, "symbolStrokeWidth": 4, "clipHeight": 16, "rowPadding": 0, "labelOffset": 7, "labelFontSize": 13, "labelColor": "#000000", "labelLimit": 400,
                  "labelExpr": "datum.label == 'g' ? 'response to gratings/plaid prediction' : datum.label == 'c' ? 'component prediction' : 'response to plaids'"}
              },
              "strokeDash": {
                "field": "s", "type": "nominal",
                "scale": {"domain": ["g", "c", "p"], "range": [[1, 0], [1, 0], [9, 7]]},
                "legend": {"orient": "none", "legendX": 747, "legendY": 324, "title": null, "padding": 0, "symbolType": "stroke", "symbolSize": 1849, "symbolStrokeWidth": 4, "clipHeight": 16, "rowPadding": 0, "labelOffset": 7, "labelFontSize": 13, "labelColor": "#000000", "labelLimit": 400,
                  "labelExpr": "datum.label == 'g' ? 'response to gratings/plaid prediction' : datum.label == 'c' ? 'component prediction' : 'response to plaids'"}
              }
            }
          },
          {
            "transform": [{"filter": "datum.r == 'panel'"}],
            "mark": {"type": "text", "fontSize": 32, "fontWeight": "bold", "align": "left", "baseline": "alphabetic", "color": "#000000"},
            "encoding": {
              "x": {"field": "x", "type": "quantitative", "scale": {"domain": [-1.04, 1.04], "nice": false, "zero": false}, "axis": null},
              "y": {"field": "y", "type": "quantitative", "scale": {"domain": [-1.04, 1.04], "nice": false, "zero": false}, "axis": null},
              "text": {"field": "t"}
            }
          },
          {
            "transform": [{"filter": "datum.r == 'area'"}],
            "mark": {"type": "text", "fontSize": 21, "fontWeight": "bold", "align": "left", "baseline": "alphabetic", "color": "#333333"},
            "encoding": {
              "x": {"field": "x", "type": "quantitative", "scale": {"domain": [-1.04, 1.04], "nice": false, "zero": false}, "axis": null},
              "y": {"field": "y", "type": "quantitative", "scale": {"domain": [-1.04, 1.04], "nice": false, "zero": false}, "axis": null},
              "text": {"field": "t"}
            }
          },
          {
            "transform": [{"filter": "datum.r == 'angle'"}],
            "mark": {"type": "text", "fontSize": 14, "align": "center", "baseline": "middle", "color": "#222222"},
            "encoding": {
              "x": {"field": "x", "type": "quantitative", "scale": {"domain": [-1.04, 1.04], "nice": false, "zero": false}, "axis": null},
              "y": {"field": "y", "type": "quantitative", "scale": {"domain": [-1.04, 1.04], "nice": false, "zero": false}, "axis": null},
              "text": {"field": "t"}
            }
          },
          {
            "transform": [{"filter": "datum.r == 'scale'"}],
            "mark": {"type": "text", "fontSize": 13, "fontWeight": "bold", "align": "center", "baseline": "alphabetic", "color": "#333333"},
            "encoding": {
              "x": {"field": "x", "type": "quantitative", "scale": {"domain": [-1.04, 1.04], "nice": false, "zero": false}, "axis": null},
              "y": {"field": "y", "type": "quantitative", "scale": {"domain": [-1.04, 1.04], "nice": false, "zero": false}, "axis": null},
              "text": {"field": "t"}
            }
          }
        ]
      }
    },
    {
      "spacing": 2,
      "hconcat": [
        {
          "spacing": 36,
          "bounds": "flush",
          "hconcat": [
            {
              "width": 273,
              "height": 277,
              "data": {"name": "lm"},
              "layer": [
                {
                  "transform": [{"filter": "datum.s == 'c'"}],
                  "mark": {"type": "line", "color": "#23237a", "strokeWidth": 3.5},
                  "encoding": {
                    "x": {"field": "o", "type": "quantitative", "scale": {"domain": [-180, 180], "nice": false, "zero": false},
                      "axis": {"values": [-150, -100, -50, 0, 50, 100, 150], "tickCount": 20, "labelExpr": "datum.value % 100 == 0 ? '' + datum.value : ''", "tickSize": -4, "labelPadding": 10, "labelFlush": false, "labelOverlap": false,
                        "title": "Orientation", "titleX": 282, "titleY": 38, "titleAlign": "center", "titleBaseline": "alphabetic", "titleAngle": 0}},
                    "y": {"field": "m", "type": "quantitative", "scale": {"domain": [-0.093, 0.78], "nice": false, "zero": false},
                      "axis": {"values": [0, 0.1, 0.2, 0.3, 0.4, 0.5, 0.6, 0.7], "tickCount": 20, "labelExpr": "'' + datum.value", "ticks": false, "labelPadding": 6, "labelFlush": false, "labelOverlap": false,
                        "title": "Normalized\u00a0 ΔF/F", "titleAngle": 270, "titleX": -36, "titleY": 122, "titleAlign": "center", "titleBaseline": "alphabetic"}}
                  }
                },
                {
                  "transform": [{"filter": "datum.s == 'p'"}],
                  "mark": {"type": "line", "color": "#000000", "strokeWidth": 3.5},
                  "encoding": {
                    "x": {"field": "o", "type": "quantitative", "scale": {"domain": [-180, 180], "nice": false, "zero": false}},
                    "y": {"field": "m", "type": "quantitative", "scale": {"domain": [-0.093, 0.78], "nice": false, "zero": false}}
                  }
                },
                {
                  "transform": [{"filter": "datum.s == 'c'"}],
                  "mark": {"type": "area", "color": "#0000ff", "opacity": 0.2},
                  "encoding": {
                    "x": {"field": "o", "type": "quantitative", "scale": {"domain": [-180, 180], "nice": false, "zero": false}},
                    "y": {"field": "lo", "type": "quantitative", "scale": {"domain": [-0.093, 0.78], "nice": false, "zero": false}},
                    "y2": {"field": "hi"}
                  }
                },
                {
                  "transform": [{"filter": "datum.s == 'p'"}],
                  "mark": {"type": "area", "color": "#000000", "opacity": 0.2},
                  "encoding": {
                    "x": {"field": "o", "type": "quantitative", "scale": {"domain": [-180, 180], "nice": false, "zero": false}},
                    "y": {"field": "lo", "type": "quantitative", "scale": {"domain": [-0.093, 0.78], "nice": false, "zero": false}},
                    "y2": {"field": "hi"}
                  }
                },
                {
                  "transform": [{"filter": "datum.s == 'g'"}],
                  "mark": {"type": "area", "color": "#ff0000", "opacity": 0.2},
                  "encoding": {
                    "x": {"field": "o", "type": "quantitative", "scale": {"domain": [-180, 180], "nice": false, "zero": false}},
                    "y": {"field": "lo", "type": "quantitative", "scale": {"domain": [-0.093, 0.78], "nice": false, "zero": false}},
                    "y2": {"field": "hi"}
                  }
                },
                {
                  "transform": [{"filter": "datum.s == 'g'"}],
                  "mark": {"type": "line", "color": "#ff0000", "strokeWidth": 3.5},
                  "encoding": {
                    "x": {"field": "o", "type": "quantitative", "scale": {"domain": [-180, 180], "nice": false, "zero": false}},
                    "y": {"field": "m", "type": "quantitative", "scale": {"domain": [-0.093, 0.78], "nice": false, "zero": false}}
                  }
                },
                {
                  "data": {"values": [{"t": "LM", "o": -170.8, "m": 0.698}]},
                  "mark": {"type": "text", "fontSize": 25, "fontWeight": "bold", "align": "left", "baseline": "alphabetic", "color": "#5a1d96"},
                  "encoding": {
                    "x": {"field": "o", "type": "quantitative", "scale": {"domain": [-180, 180], "nice": false, "zero": false}},
                    "y": {"field": "m", "type": "quantitative", "scale": {"domain": [-0.093, 0.78], "nice": false, "zero": false}},
                    "text": {"field": "t"}
                  }
                },
                {
                  "data": {"values": [{"t": "B", "o": -259.1, "m": 0.7705}]},
                  "mark": {"type": "text", "fontSize": 31, "fontWeight": "bold", "align": "left", "baseline": "alphabetic", "color": "#000000"},
                  "encoding": {
                    "x": {"field": "o", "type": "quantitative", "scale": {"domain": [-180, 180], "nice": false, "zero": false}},
                    "y": {"field": "m", "type": "quantitative", "scale": {"domain": [-0.093, 0.78], "nice": false, "zero": false}},
                    "text": {"field": "t"}
                  }
                }
              ]
            },
            {
              "width": 269,
              "height": 273,
              "data": {"name": "rl"},
              "layer": [
                {
                  "transform": [{"filter": "datum.s == 'c'"}],
                  "mark": {"type": "line", "color": "#23237a", "strokeWidth": 3.5},
                  "encoding": {
                    "x": {"field": "o", "type": "quantitative", "scale": {"domain": [-180, 180], "nice": false, "zero": false},
                      "axis": {"values": [-150, -100, -50, 0, 50, 100, 150], "tickCount": 20, "labelExpr": "datum.value % 100 == 0 ? '' + datum.value : ''", "tickSize": -4, "labelPadding": 14, "labelFlush": false, "labelOverlap": false, "title": null}},
                    "y": {"field": "m", "type": "quantitative", "scale": {"domain": [-0.103, 0.637], "nice": false, "zero": false},
                      "axis": {"values": [-0.1, 0, 0.1, 0.2, 0.3, 0.4, 0.5, 0.6], "tickCount": 20, "labelExpr": "'' + datum.value", "ticks": false, "labelPadding": 8, "labelFlush": false, "labelOverlap": false, "title": null}}
                  }
                },
                {
                  "transform": [{"filter": "datum.s == 'c'"}],
                  "mark": {"type": "area", "color": "#0000ff", "opacity": 0.2},
                  "encoding": {
                    "x": {"field": "o", "type": "quantitative", "scale": {"domain": [-180, 180], "nice": false, "zero": false}},
                    "y": {"field": "lo", "type": "quantitative", "scale": {"domain": [-0.103, 0.637], "nice": false, "zero": false}},
                    "y2": {"field": "hi"}
                  }
                },
                {
                  "transform": [{"filter": "datum.s == 'g'"}],
                  "mark": {"type": "area", "color": "#ff0000", "opacity": 0.2},
                  "encoding": {
                    "x": {"field": "o", "type": "quantitative", "scale": {"domain": [-180, 180], "nice": false, "zero": false}},
                    "y": {"field": "lo", "type": "quantitative", "scale": {"domain": [-0.103, 0.637], "nice": false, "zero": false}},
                    "y2": {"field": "hi"}
                  }
                },
                {
                  "transform": [{"filter": "datum.s == 'g'"}],
                  "mark": {"type": "line", "color": "#ff0000", "strokeWidth": 3.5},
                  "encoding": {
                    "x": {"field": "o", "type": "quantitative", "scale": {"domain": [-180, 180], "nice": false, "zero": false}},
                    "y": {"field": "m", "type": "quantitative", "scale": {"domain": [-0.103, 0.637], "nice": false, "zero": false}}
                  }
                },
                {
                  "data": {"values": [{"t": "RL", "o": -158.6, "m": 0.5665}]},
                  "mark": {"type": "text", "fontSize": 25, "fontWeight": "bold", "align": "left", "baseline": "alphabetic", "color": "#178a3c"},
                  "encoding": {
                    "x": {"field": "o", "type": "quantitative", "scale": {"domain": [-180, 180], "nice": false, "zero": false}},
                    "y": {"field": "m", "type": "quantitative", "scale": {"domain": [-0.103, 0.637], "nice": false, "zero": false}},
                    "text": {"field": "t"}
                  }
                }
              ]
            }
          ]
        },
        {
          "width": 278,
          "height": 276,
          "layer": [
            {
              "data": {"name": "bd"},
              "mark": {"type": "line", "color": "#000000", "strokeWidth": 2.5},
              "encoding": {
                "x": {"field": "zc", "type": "quantitative", "scale": {"domain": [-3, 3], "nice": false, "zero": false},
                  "axis": {"values": [-3, -2, -1, 0, 1, 2, 3], "tickSize": -4, "labelPadding": 10, "labelFlush": false, "labelOverlap": false,
                    "title": "Zc", "titleX": 133, "titleY": 40, "titleAlign": "center", "titleBaseline": "alphabetic", "titleAngle": 0}},
                "y": {"field": "zp", "type": "quantitative", "scale": {"domain": [-3, 3], "nice": false, "zero": false},
                  "axis": {"values": [-3, -2, -1, 0, 1, 2, 3], "tickSize": -4, "labelPadding": 11, "labelFlush": false, "labelOverlap": false,
                    "title": "Zp", "titleAngle": 270, "titleX": -20, "titleY": 138, "titleAlign": "center", "titleBaseline": "alphabetic"}},
                "detail": {"field": "g"},
                "order": {"field": "i", "type": "quantitative"}
              }
            },
            {
              "data": {"name": "cz"},
              "transform": [{"filter": "datum.g == 'n'"}],
              "mark": {"type": "point", "shape": "circle", "filled": true, "size": 120, "color": "#000000", "stroke": "#ffffff", "strokeWidth": 1, "opacity": 1},
              "encoding": {
                "x": {"field": "zc", "type": "quantitative", "scale": {"domain": [-3, 3], "nice": false, "zero": false}},
                "y": {"field": "zp", "type": "quantitative", "scale": {"domain": [-3, 3], "nice": false, "zero": false}}
              }
            },
            {
              "data": {"name": "cz"},
              "transform": [{"filter": "datum.g == 'p'"}],
              "mark": {"type": "point", "shape": "circle", "filled": true, "size": 120, "color": "#ff0000", "stroke": "#ffffff", "strokeWidth": 1, "opacity": 1},
              "encoding": {
                "x": {"field": "zc", "type": "quantitative", "scale": {"domain": [-3, 3], "nice": false, "zero": false}},
                "y": {"field": "zp", "type": "quantitative", "scale": {"domain": [-3, 3], "nice": false, "zero": false}}
              }
            },
            {
              "data": {"name": "cz"},
              "transform": [{"filter": "datum.g == 'c'"}],
              "mark": {"type": "point", "shape": "circle", "filled": true, "size": 120, "color": "#0000ff", "stroke": "#ffffff", "strokeWidth": 1, "opacity": 1},
              "encoding": {
                "x": {"field": "zc", "type": "quantitative", "scale": {"domain": [-3, 3], "nice": false, "zero": false}},
                "y": {"field": "zp", "type": "quantitative", "scale": {"domain": [-3, 3], "nice": false, "zero": false}}
              }
            },
            {
              "data": {"values": [{"t": "C", "zc": -4.835, "zp": 3.022}]},
              "mark": {"type": "text", "fontSize": 26, "fontWeight": "bold", "align": "left", "baseline": "alphabetic", "color": "#000000"},
              "encoding": {
                "x": {"field": "zc", "type": "quantitative", "scale": {"domain": [-3, 3], "nice": false, "zero": false}},
                "y": {"field": "zp", "type": "quantitative", "scale": {"domain": [-3, 3], "nice": false, "zero": false}},
                "text": {"field": "t"}
              }
            }
          ]
        }
      ]
    }
  ],
  "spacing": 61,
  "config": {
    "font": "Liberation Sans",
    "view": {"stroke": null},
    "header": {"labels": false},
    "headerFacet": {"labels": false},
    "axis": {"grid": false, "labelFont": "Liberation Sans", "labelFontSize": 14, "labelColor": "#000000", "labelOverlap": false, "titleFont": "Liberation Sans", "titleFontSize": 16, "titleFontWeight": "bold", "titleColor": "#000000", "domainColor": "#000000", "domainWidth": 2.5, "tickColor": "#000000", "tickWidth": 1.5}
  }
}
